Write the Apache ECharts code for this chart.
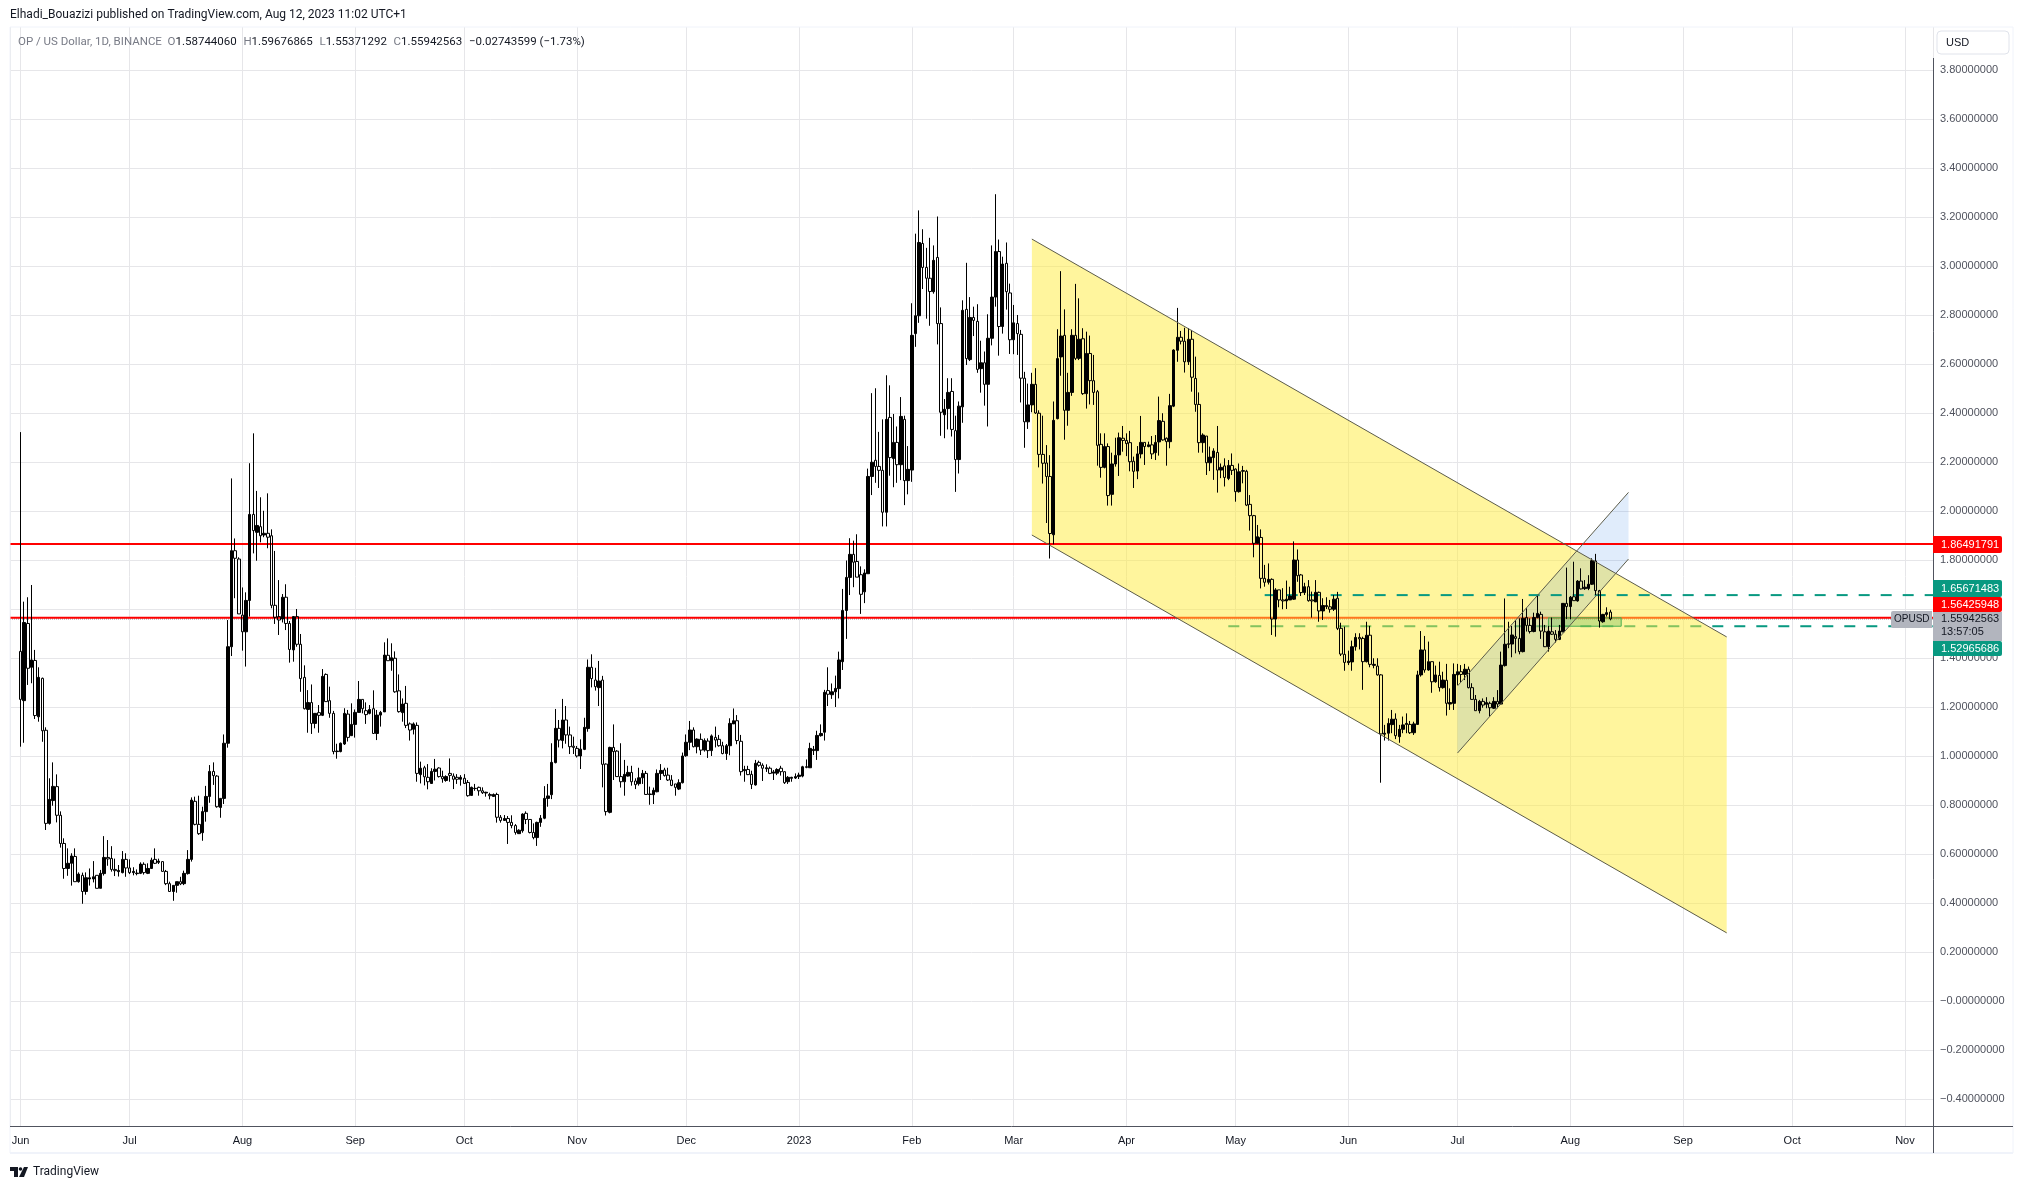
<!DOCTYPE html>
<html>
<head>
<meta charset="utf-8">
<title>OP / US Dollar</title>
<script src="https://cdn.jsdelivr.net/npm/echarts@6/dist/echarts.min.js"></script>
<style>
html,body{margin:0;padding:0;background:#fff;}
#main{width:2023px;height:1189px;}
</style>
</head>
<body>
<div id="main"></div>
<script>
// one row per day: open, close, low, high
var jun22=[[1.427,1.231,1.038,2.322],[1.226,1.545,1.054,1.63],[1.541,1.358,1.29,1.648],[1.362,1.392,1.297,1.698],[1.39,1.165,1.151,1.433],[1.16,1.321,1.14,1.362],[1.317,1.103,1.058,1.32],[1.105,.725,.698,1.117],[.725,.823,.72,.909],[.818,.876,.797,.974],[.875,.758,.729,.925],[.758,.643,.626,.774],[.643,.541,.499,.664],[.541,.562,.511,.623],[.562,.592,.471,.603],[.59,.487,.487,.623],[.487,.518,.483,.525],[.513,.447,.397,.524],[.447,.503,.434,.525],[.498,.503,.471,.541],[.498,.507,.484,.571],[.513,.46,.46,.513],[.46,.521,.46,.535],[.52,.586,.512,.673],[.586,.58,.552,.657],[.582,.537,.528,.632],[.537,.532,.51,.581],[.528,.533,.508,.555],[.524,.578,.521,.612],[.578,.543,.507,.603]];
var jul22=[[.543,.524,.518,.578],[.524,.529,.513,.546],[.52,.522,.513,.537],[.521,.559,.518,.566],[.558,.524,.516,.566],[.521,.541,.518,.562],[.541,.575,.539,.585],[.578,.562,.559,.623],[.566,.571,.559,.581],[.569,.529,.529,.569],[.529,.479,.473,.535],[.479,.447,.445,.487],[.447,.472,.409,.472],[.472,.487,.442,.487],[.487,.478,.473,.507],[.479,.521,.473,.532],[.52,.578,.516,.616],[.578,.82,.569,.831],[.815,.721,.717,.834],[.721,.683,.678,.838],[.687,.773,.654,.793],[.773,.835,.732,.878],[.835,.937,.809,.963],[.937,.92,.882,.974],[.918,.793,.789,.922],[.79,.827,.748,.827],[.827,1.052,.804,1.088],[1.052,1.446,1.034,1.555],[1.446,1.838,1.408,2.133],[1.838,1.807,1.644,1.888],[1.804,1.58,1.58,1.811]];
var aug22=[[1.575,1.507,1.43,1.688],[1.507,1.635,1.365,1.668],[1.635,1.986,1.569,2.195],[1.986,1.92,1.827,2.317],[1.913,1.941,1.797,2.082],[1.936,1.899,1.872,2.056],[1.902,1.909,1.893,2.001],[1.909,1.893,1.848,2.072],[1.899,1.615,1.603,1.925],[1.615,1.566,1.539,1.837],[1.569,1.555,1.494,1.718],[1.559,1.648,1.545,1.661],[1.648,1.541,1.514,1.701],[1.541,1.435,1.381,1.551],[1.433,1.569,1.385,1.571],[1.569,1.456,1.446,1.6],[1.456,1.316,1.262,1.498],[1.321,1.193,1.19,1.37],[1.19,1.218,1.095,1.269],[1.218,1.133,1.09,1.292],[1.133,1.174,1.113,1.174],[1.177,1.166,1.095,1.208],[1.166,1.325,1.163,1.355],[1.333,1.222,1.222,1.337],[1.226,1.174,1.156,1.283],[1.174,1.018,1.007,1.184],[1.018,1.02,.989,1.05],[1.018,1.052,1.015,1.055],[1.049,1.174,1.045,1.195],[1.171,1.076,1.059,1.188],[1.083,1.129,1.083,1.215]];
var sep22=[[1.129,1.178,1.075,1.19],[1.178,1.231,1.177,1.306],[1.231,1.193,1.174,1.231],[1.185,1.169,1.131,1.219],[1.174,1.19,1.17,1.208],[1.193,1.092,1.09,1.268],[1.092,1.167,1.065,1.188],[1.167,1.178,1.12,1.184],[1.18,1.412,1.18,1.464],[1.411,1.389,1.389,1.48],[1.389,1.401,1.348,1.46],[1.399,1.262,1.258,1.427],[1.266,1.181,1.177,1.333],[1.177,1.212,1.14,1.235],[1.215,1.125,1.114,1.286],[1.131,1.106,1.063,1.137],[1.109,1.131,1.088,1.137],[1.125,.929,.895,1.137],[.924,.95,.888,.977],[.952,.915,.88,.96],[.913,.895,.864,.967],[.888,.937,.886,.95],[.937,.946,.9,.988],[.951,.916,.912,.954],[.916,.907,.891,.94],[.9,.916,.895,.921],[.929,.921,.895,.99],[.918,.905,.865,.929],[.913,.905,.886,.926],[.905,.913,.879,.922]];
var oct22=[[.909,.888,.886,.926],[.892,.838,.834,.902],[.839,.872,.839,.875],[.867,.868,.858,.886],[.872,.858,.838,.875],[.858,.85,.845,.872],[.849,.852,.834,.854],[.843,.838,.823,.85],[.835,.843,.834,.847],[.843,.75,.728,.85],[.75,.737,.728,.759],[.737,.745,.736,.759],[.745,.729,.641,.755],[.729,.716,.705,.758],[.716,.688,.679,.722],[.683,.697,.682,.701],[.695,.763,.687,.766],[.766,.741,.722,.774],[.741,.688,.684,.741],[.688,.667,.66,.725],[.667,.729,.633,.732],[.729,.746,.711,.759],[.746,.827,.742,.877],[.827,.837,.793,.886],[.842,.974,.824,1.052],[.973,1.113,.97,1.192],[1.113,1.065,1.035,1.147],[1.063,1.147,1.031,1.233],[1.147,1.086,1.05,1.204],[1.086,1.038,1.008,1.12],[1.04,1.035,1.008,1.079]];
var nov22=[[1.031,1.0,.994,1.041],[1.0,1.028,.947,1.068],[1.027,1.117,1.024,1.156],[1.112,1.362,1.099,1.394],[1.362,1.316,1.28,1.415],[1.31,1.283,1.267,1.36],[1.279,1.306,1.204,1.388],[1.31,.966,.872,1.327],[.967,.773,.757,.97],[.77,1.035,.766,1.038],[1.035,1.018,.902,1.129],[1.02,.916,.916,1.024],[.916,.895,.871,1.052],[.895,.925,.838,.984],[.918,.933,.916,.96],[.933,.895,.879,.96],[.898,.883,.865,.909],[.887,.911,.879,.952],[.911,.929,.886,.943],[.929,.843,.842,.939],[.843,.845,.801,.875],[.842,.86,.804,.871],[.854,.929,.852,.945],[.929,.941,.902,.967],[.943,.92,.916,.952],[.922,.902,.898,.952],[.902,.88,.877,.922],[.886,.872,.838,.886],[.865,.891,.861,.905],[.891,1.0,.888,1.014]];
var dec22=[[1.001,1.056,.997,1.088],[1.056,1.106,1.024,1.143],[1.106,1.038,1.035,1.117],[1.038,1.069,1.011,1.072],[1.068,1.024,1.004,1.092],[1.024,1.063,1.018,1.072],[1.061,1.022,.992,1.072],[1.022,1.082,1.0,1.088],[1.076,1.065,1.035,1.12],[1.068,1.042,1.038,1.086],[1.042,1.01,1.007,1.058],[1.01,1.042,.984,1.049],[1.042,1.133,1.003,1.154],[1.131,1.144,1.131,1.194],[1.144,1.063,1.048,1.167],[1.06,.936,.92,1.086],[.94,.945,.895,.96],[.945,.924,.922,.96],[.925,.884,.865,.94],[.882,.97,.879,.984],[.974,.962,.956,.981],[.962,.95,.898,.97],[.948,.952,.935,.966],[.95,.929,.926,.957],[.93,.935,.902,.943],[.93,.945,.922,.95],[.95,.936,.92,.96],[.936,.891,.886,.936],[.895,.913,.886,.918],[.909,.913,.895,.915],[.91,.916,.906,.929]];
var jan23=[[.916,.922,.906,.932],[.918,.956,.913,.96],[.954,.956,.95,.986],[.952,1.031,.952,1.054],[1.022,1.027,1.004,1.041],[1.022,1.084,.984,1.103],[1.083,1.092,1.079,1.129],[1.097,1.26,1.063,1.27],[1.267,1.252,1.204,1.362],[1.25,1.262,1.233,1.296],[1.262,1.276,1.2,1.328],[1.275,1.392,1.235,1.426],[1.385,1.594,1.351,1.682],[1.594,1.729,1.478,1.798],[1.729,1.823,1.657,1.889],[1.823,1.791,1.689,1.879],[1.794,1.73,1.73,1.905],[1.74,1.66,1.58,1.774],[1.67,1.747,1.624,1.762],[1.744,2.141,1.744,2.173],[2.141,2.199,2.065,2.481],[2.207,2.182,2.115,2.501],[2.182,2.166,2.094,2.323],[2.166,1.995,1.937,2.374],[1.995,2.374,1.937,2.554],[2.382,2.218,2.144,2.513],[2.214,2.28,2.097,2.396],[2.28,2.189,2.115,2.345],[2.189,2.386,2.126,2.465],[2.374,2.124,2.024,2.389],[2.124,2.17,2.068,2.265]];
var feb23=[[2.167,2.717,2.119,2.848],[2.724,2.797,2.67,3.132],[2.797,3.096,2.768,3.227],[3.092,2.994,2.906,3.15],[2.994,2.95,2.785,3.074],[2.95,2.896,2.756,3.115],[2.895,3.023,2.887,3.084],[3.035,2.765,2.68,3.202],[2.765,2.403,2.307,2.831],[2.393,2.415,2.297,2.457],[2.418,2.484,2.333,2.542],[2.488,2.333,2.304,2.542],[2.328,2.21,2.078,2.389],[2.21,2.428,2.153,2.447],[2.425,2.819,2.36,2.86],[2.823,2.622,2.596,3.013],[2.618,2.79,2.612,2.873],[2.79,2.778,2.714,2.834],[2.774,2.578,2.564,2.844],[2.581,2.605,2.483,2.695],[2.605,2.517,2.43,2.651],[2.517,2.705,2.345,2.803],[2.705,2.873,2.676,3.084],[2.873,3.059,2.834,3.293],[3.059,2.753,2.634,3.108],[2.753,3.008,2.724,3.038],[3.011,2.895,2.822,3.096],[2.89,2.699,2.641,2.928]];
var mar23=[[2.699,2.768,2.64,2.841],[2.765,2.724,2.637,2.8],[2.721,2.542,2.443,2.739],[2.542,2.364,2.258,2.568],[2.364,2.433,2.335,2.52],[2.433,2.517,2.403,2.564],[2.517,2.4,2.396,2.583],[2.399,2.231,2.178,2.411],[2.231,2.195,2.112,2.389],[2.196,2.141,1.951,2.269],[2.141,1.908,1.806,2.228],[1.903,2.37,1.864,2.447],[2.377,2.622,2.374,2.742],[2.629,2.714,2.552,2.979],[2.717,2.411,2.291,2.823],[2.411,2.484,2.348,2.564],[2.484,2.717,2.47,2.742],[2.717,2.623,2.616,2.927],[2.623,2.701,2.616,2.868],[2.703,2.479,2.474,2.746],[2.479,2.643,2.418,2.732],[2.643,2.532,2.435,2.716],[2.532,2.484,2.433,2.637],[2.487,2.268,2.185,2.494],[2.272,2.178,2.136,2.317],[2.178,2.263,2.174,2.317],[2.263,2.063,2.022,2.276],[2.068,2.192,2.022,2.238],[2.192,2.227,2.181,2.299],[2.229,2.299,2.143,2.32],[2.297,2.288,2.242,2.347]];
var apr23=[[2.288,2.275,2.224,2.317],[2.279,2.201,2.162,2.327],[2.203,2.162,2.094,2.222],[2.163,2.233,2.13,2.265],[2.233,2.28,2.215,2.388],[2.28,2.263,2.188,2.28],[2.263,2.27,2.26,2.283],[2.27,2.233,2.212,2.306],[2.238,2.28,2.208,2.31],[2.282,2.369,2.226,2.467],[2.366,2.29,2.287,2.399],[2.297,2.283,2.185,2.3],[2.283,2.43,2.256,2.478],[2.428,2.657,2.424,2.66],[2.656,2.709,2.609,2.829],[2.709,2.693,2.68,2.735],[2.693,2.609,2.565,2.748],[2.609,2.701,2.596,2.746],[2.701,2.546,2.487,2.739],[2.541,2.435,2.405,2.63],[2.435,2.279,2.238,2.484],[2.279,2.31,2.238,2.317],[2.306,2.197,2.147,2.306],[2.197,2.22,2.163,2.263],[2.218,2.245,2.127,2.256],[2.239,2.167,2.075,2.347],[2.167,2.178,2.134,2.194],[2.184,2.137,2.1,2.215],[2.133,2.186,2.126,2.208],[2.186,2.166,2.147,2.235]];
var may23=[[2.171,2.079,2.038,2.174],[2.079,2.16,2.075,2.194],[2.165,2.162,2.113,2.184],[2.162,2.024,2.02,2.168],[2.027,1.981,1.92,2.065],[1.981,1.868,1.811,1.984],[1.868,1.895,1.868,1.943],[1.892,1.725,1.684,1.925],[1.725,1.709,1.691,1.78],[1.709,1.721,1.7,1.786],[1.721,1.559,1.494,1.725],[1.559,1.678,1.487,1.685],[1.678,1.637,1.607,1.678],[1.637,1.633,1.599,1.685],[1.633,1.64,1.6,1.716],[1.637,1.653,1.637,1.691],[1.64,1.8,1.637,1.876],[1.8,1.736,1.711,1.843],[1.739,1.667,1.653,1.743],[1.667,1.691,1.657,1.707],[1.691,1.634,1.63,1.718],[1.637,1.633,1.565,1.671],[1.629,1.668,1.629,1.718],[1.668,1.592,1.548,1.671],[1.592,1.614,1.555,1.644],[1.61,1.614,1.6,1.648],[1.609,1.599,1.585,1.637],[1.599,1.64,1.592,1.657],[1.644,1.521,1.514,1.67],[1.521,1.416,1.408,1.544],[1.415,1.382,1.348,1.528]];
var jun23=[[1.381,1.387,1.371,1.43],[1.384,1.446,1.348,1.471],[1.446,1.484,1.43,1.501],[1.484,1.478,1.435,1.501],[1.48,1.385,1.27,1.487],[1.385,1.493,1.382,1.548],[1.493,1.374,1.362,1.531],[1.37,1.374,1.358,1.399],[1.367,1.331,1.328,1.399],[1.331,1.09,.891,1.334],[1.089,1.093,1.063,1.127],[1.093,1.133,1.063,1.154],[1.128,1.15,1.093,1.188],[1.151,1.083,1.069,1.174],[1.079,1.109,1.054,1.127],[1.109,1.127,1.093,1.161],[1.129,1.133,1.093,1.174],[1.129,1.095,1.09,1.143],[1.095,1.131,1.086,1.14],[1.129,1.331,1.127,1.348],[1.331,1.433,1.324,1.51],[1.433,1.351,1.34,1.49],[1.351,1.385,1.348,1.467],[1.385,1.303,1.258,1.385],[1.303,1.331,1.299,1.369],[1.329,1.279,1.263,1.385],[1.279,1.31,1.275,1.344],[1.309,1.215,1.165,1.376],[1.212,1.218,1.188,1.276],[1.215,1.333,1.188,1.378]];
var jul23=[[1.331,1.344,1.29,1.376],[1.344,1.333,1.3,1.371],[1.333,1.354,1.31,1.376],[1.354,1.279,1.276,1.365],[1.279,1.231,1.229,1.297],[1.231,1.185,1.185,1.249],[1.185,1.223,1.174,1.229],[1.223,1.208,1.197,1.235],[1.211,1.218,1.195,1.24],[1.215,1.197,1.161,1.222],[1.195,1.223,1.192,1.24],[1.223,1.212,1.195,1.269],[1.212,1.371,1.211,1.426],[1.369,1.456,1.365,1.643],[1.456,1.458,1.44,1.548],[1.457,1.494,1.403,1.531],[1.487,1.48,1.419,1.555],[1.48,1.426,1.415,1.562],[1.426,1.562,1.423,1.641],[1.565,1.533,1.508,1.603],[1.533,1.508,1.5,1.562],[1.508,1.565,1.505,1.585],[1.565,1.582,1.562,1.653],[1.578,1.51,1.478,1.589],[1.507,1.446,1.445,1.535],[1.446,1.51,1.426,1.531],[1.507,1.497,1.494,1.565],[1.497,1.476,1.463,1.514],[1.476,1.51,1.473,1.535],[1.507,1.623,1.505,1.623],[1.623,1.61,1.559,1.769]];
var aug23=[[1.61,1.648,1.558,1.653],[1.65,1.634,1.633,1.793],[1.633,1.714,1.63,1.718],[1.714,1.682,1.68,1.766],[1.683,1.689,1.678,1.718],[1.684,1.701,1.677,1.738],[1.701,1.797,1.698,1.807],[1.796,1.675,1.657,1.825],[1.675,1.551,1.524,1.678],[1.548,1.578,1.544,1.58],[1.578,1.585,1.569,1.607],[1.5874406,1.55942563,1.55371292,1.59676865]];

var firstDay='2022-06-01';
var axisStart='2022-05-29T02:44:00Z';
var axisEnd='2023-11-08T17:00:00Z';

var monthTicks=['2022-06-01','2022-07-01','2022-08-01','2022-09-01','2022-10-01','2022-11-01','2022-12-01','2023-01-01','2023-02-01','2023-03-01','2023-04-01','2023-05-01','2023-06-01','2023-07-01','2023-08-01','2023-09-01','2023-10-01','2023-11-01'];
var monthLabels=['Jun','Jul','Aug','Sep','Oct','Nov','Dec','2023','Feb','Mar','Apr','May','Jun','Jul','Aug','Sep','Oct','Nov'];
var priceTicks=[-0.4,-0.2,0,0.2,0.4,0.6,0.8,1,1.2,1.4,1.6,1.8,2,2.2,2.4,2.6,2.8,3,3.2,3.4,3.6,3.8];

// drawings, in date / price
var bearChannel=[['2023-03-06',3.11],['2023-09-13',1.486],['2023-09-13',0.278],['2023-03-06',1.902]];
var riseChannel=[['2023-07-01',1.286],['2023-08-17',2.076],['2023-08-17',1.804],['2023-07-01',1.012]];
var supportBox=[['2023-07-26',1.56425948],['2023-08-15',1.56425948],['2023-08-15',1.52965686],['2023-07-26',1.52965686]];
var resistance=1.86491791;
var supportRed=1.56425948;
var lastPrice=1.55942563;
var dashHigh=1.65671483;
var dashHighFrom='2023-05-09';
var dashLow=1.52965686;
var dashLowFrom='2023-04-29';

var headerText='Elhadi_Bouazizi published on TradingView.com, Aug 12, 2023 11:02 UTC+1';
var symbolText='OP / US Dollar, 1D, BINANCE';
var ohlcLabels=['O','H','L','C'];
var ohlcValues=['1.58744060','1.59676865','1.55371292','1.55942563'];
var changeText='\u22120.02743599 (\u22121.73%)';

var candles=[].concat(jun22,jul22,aug22,sep22,oct22,nov22,dec22,jan23,feb23,mar23,apr23,may23,jun23,jul23,aug23);
var startTime=Date.parse(firstDay);
var candleData=[];
for(var i=0;i<candles.length;i++){
    candleData.push([startTime+i*86400000].concat(candles[i]));
}
var xMin=Date.parse(axisStart);
var xMax=Date.parse(axisEnd);
var monthTimes=monthTicks.map(function(d){return Date.parse(d);});

function toRows(points){
    return points.map(function(p){return [Date.parse(p[0]),p[1]];});
}
// filled shape on the price scale, drawn once from all of its rows
function shape(rows,fill,stroke,z){
    return {
        type:'custom',
        silent:true,
        z:z,
        data:rows,
        encode:{x:0,y:1},
        renderItem:function(params,api){
            if(params.dataIndex!==0){
                return null;
            }
            var pts=rows.map(function(r){return api.coord(r);});
            return {
                type:'polygon',
                shape:{points:pts},
                style:{fill:fill,stroke:stroke||null,lineWidth:1}
            };
        }
    };
}
function line(rows,color,width,dash,z){
    return {
        type:'line',
        silent:true,
        z:z,
        showSymbol:false,
        symbol:'none',
        animation:false,
        data:rows,
        lineStyle:{color:color,width:width,type:dash||'solid',opacity:1}
    };
}
function level(from,value,color,width,dash,z){
    return line([[from,value],[xMax,value]],color,width,dash,z);
}
function edge(points,a,b){
    var rows=toRows(points);
    return line([rows[a],rows[b]],'#5c5c4a',1,null,8);
}

var option={
    animation:false,
    useUTC:true,
    backgroundColor:'#fff',
    textStyle:{fontFamily:'"Liberation Sans"'},
    grid:{left:10,right:90,top:27,bottom:63},
    xAxis:{
        type:'time',
        min:xMin,
        max:xMax,
        splitNumber:18,
        axisLine:{show:false},
        axisTick:{show:false},
        splitLine:{show:true,lineStyle:{color:'#e6e6e9',width:1}},
        axisLabel:{
            margin:9,
            color:'#131722',
            fontSize:11,
            hideOverlap:false,
            showMinLabel:false,
            showMaxLabel:false,
            formatter:function(v){
                var k=monthTimes.indexOf(v);
                return k<0?'':monthLabels[k];
            }
        }
    },
    yAxis:{
        type:'value',
        position:'right',
        scale:true,
        min:-0.5102,
        max:3.9755,
        axisLine:{show:false},
        axisTick:{show:false,customValues:priceTicks},
        splitLine:{show:true,lineStyle:{color:'#e6e6e9',width:1}},
        axisLabel:{
            customValues:priceTicks,
            margin:7,
            color:'#50535e',
            fontSize:11,
            formatter:function(v){
                return (v<=0?'\u2212':'')+Math.abs(v).toFixed(8);
            }
        }
    },
    series:[
        level(xMin,lastPrice,'#787b86',1,'dotted',1),
        level(xMin,supportRed,'#ff0000',2,null,1),
        level(Date.parse(dashLowFrom),dashLow,'#089981',2,[11,11],1),
        shape(toRows(bearChannel),'rgba(255,235,59,0.5)',null,2),
        level(xMin,resistance,'#ff0000',2,null,3),
        level(Date.parse(dashHighFrom),dashHigh,'#089981',2,[11,11],3),
        shape(toRows(riseChannel),'rgba(48,128,228,0.15)',null,3),
        shape(toRows(supportBox),'rgba(76,175,80,0.3)','#4caf50',3),
        {
            type:'candlestick',
            z:5,
            barWidth:3,
            data:candleData,
            encode:{x:0,y:[1,2,3,4]},
            itemStyle:{
                color:'#000',
                color0:'transparent',
                borderColor:'#000',
                borderColor0:'#000',
                borderWidth:1
            }
        },
        edge(bearChannel,0,1),
        edge(bearChannel,3,2),
        edge(riseChannel,0,1),
        edge(riseChannel,3,2)
    ],
    graphic:{elements:buildFrame()}
};

function tag(top,bottom,fill,text,color){
    return {
        type:'group',
        z:100,
        children:[
            {type:'rect',z:100,shape:{x:1933,y:top,width:69,height:bottom-top,r:[0,2,2,0]},style:{fill:fill}},
            {type:'text',z:101,x:1941,y:(top+bottom)/2,style:{text:text,fill:color,font:'11px "Liberation Sans"',textVerticalAlign:'middle'}}
        ]
    };
}
function rule(x1,y1,x2,y2,color,width){
    return {type:'line',z:90,silent:true,shape:{x1:x1,y1:y1,x2:x2,y2:y2},style:{stroke:color,lineWidth:width}};
}
function buildFrame(){
    var ohlcPart=ohlcLabels.map(function(l,i){
        return '{g|'+l+'}{b|'+ohlcValues[i]+'}  ';
    }).join('');
    return [
        {type:'text',z:100,x:10,y:15,style:{text:headerText,fill:'#131722',font:'12px Roboto',textVerticalAlign:'middle'}},
        {type:'text',z:100,x:18,y:42,style:{
            text:'{g|'+symbolText+'  }'+ohlcPart+'{b|'+changeText+'}',
            textVerticalAlign:'middle',
            rich:{
                g:{fill:'#787b86',font:'11.5px Roboto'},
                b:{fill:'#131722',font:'11.5px Roboto'}
            }
        }},
        rule(10,27,2013,27,'#f0f3fa',1),
        rule(10,27,10,1153,'#f0f3fa',1),
        rule(2013,27,2013,1153,'#f0f3fa',1),
        rule(10,1153,2013,1153,'#f0f3fa',2),
        rule(10,1126.5,2013,1126.5,'#50535e',1),
        rule(1933.5,58,1933.5,1153,'#50535e',1),
        {type:'rect',z:100,shape:{x:1937,y:31,width:72,height:23,r:4},style:{fill:'#fff',stroke:'#e0e3eb',lineWidth:1}},
        {type:'text',z:101,x:1946,y:43,style:{text:'USD',fill:'#131722',font:'11px "Liberation Sans"',textVerticalAlign:'middle'}},
        tag(536,553,'#ff0000','1.86491791','#fff'),
        tag(580,597,'#089981','1.65671483','#fff'),
        tag(597,612,'#ff0000','1.56425948','#fff'),
        {
            type:'group',
            z:100,
            children:[
                {type:'rect',z:100,shape:{x:1933,y:612,width:69,height:29},style:{fill:'#b2b5be'}},
                {type:'text',z:101,x:1941,y:619,style:{text:'1.55942563',fill:'#131722',font:'11px "Liberation Sans"',textVerticalAlign:'middle'}},
                {type:'text',z:101,x:1941,y:632,style:{text:'13:57:05',fill:'#131722',font:'11px "Liberation Sans"',textVerticalAlign:'middle'}}
            ]
        },
        tag(641,656,'#089981','1.52965686','#fff'),
        {type:'rect',z:100,shape:{x:1891,y:611,width:41,height:17,r:[2,0,0,2]},style:{fill:'#b2b5be'}},
        {type:'text',z:101,x:1894,y:619.5,style:{text:'OPUSD',fill:'#131722',font:'10px "Liberation Sans"',textVerticalAlign:'middle'}},
        {type:'polygon',z:100,shape:{points:[[10,1167],[18,1167],[18,1177],[14,1177],[14,1171],[10,1171]]},style:{fill:'#131722'}},
        {type:'circle',z:100,shape:{cx:20.5,cy:1169,r:1.8},style:{fill:'#131722'}},
        {type:'polygon',z:100,shape:{points:[[24,1167],[28,1167],[24,1177],[19,1177]]},style:{fill:'#131722'}},
        {type:'text',z:100,x:33,y:1172,style:{text:'TradingView',fill:'#131722',font:'12px Roboto',textVerticalAlign:'middle'}}
    ];
}

var chart=echarts.init(document.getElementById('main'));
chart.setOption(option);
</script>
</body>
</html>
